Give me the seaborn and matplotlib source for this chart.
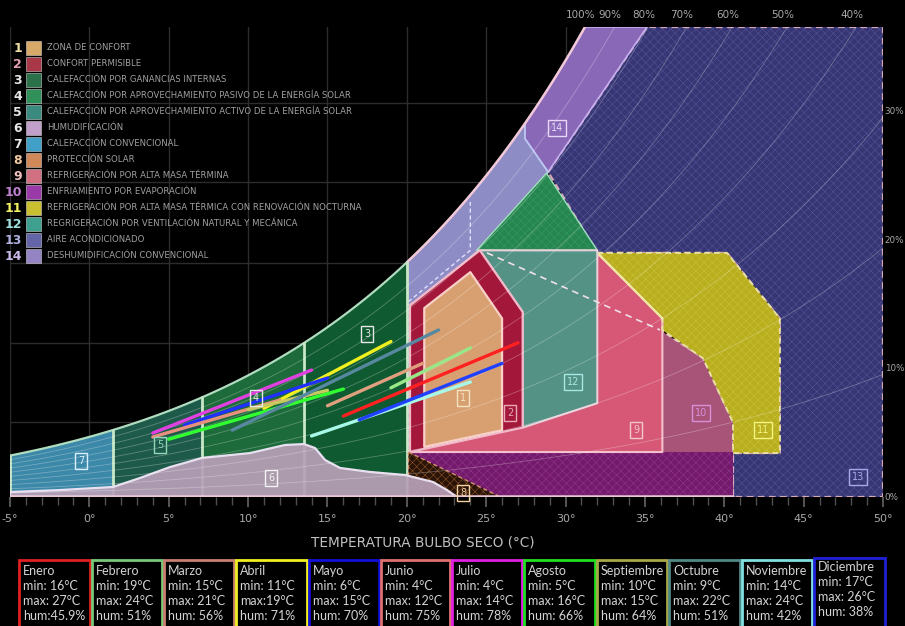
import numpy as np
import pandas as pd
import matplotlib
matplotlib.use("Agg")
import matplotlib.pyplot as plt
from matplotlib.patches import Polygon, Rectangle
import seaborn as sns

# ---------------- data ----------------
P_KPA = 81.8                       # station pressure of the chart (kPa)
W_TOP = 36.58                      # top of chart (g/kg)
rh_grid = [0.9, 0.8, 0.7, 0.6, 0.5, 0.4, 0.3, 0.2, 0.1]
rh_top = [1.0, 0.9, 0.8, 0.7, 0.6, 0.5, 0.4]
rh_top_labels = ["100%", "90%", "80%", "70%", "60%", "50%", "40%"]
x_ticks = [-5, 0, 5, 10, 15, 20, 25, 30, 35, 40, 45, 50]
x_tick_labels = ["-5°", "0°", "5°", "10°", "15°", "20°", "25°", "30°", "35°", "40°", "45°", "50°"]
y_right = [0, 10, 20, 30]
y_right_labels = ["0%", "10%", "20%", "30%"]
grid_w = [5.85, 12.0, 18.2, 24.5, 30.7]

zone_numbers = [str(i) for i in range(1, 15)]
zone_names = [
    "ZONA DE CONFORT",
    "CONFORT PERMISIBLE",
    "CALEFACCIÓN POR GANANCIAS INTERNAS",
    "CALEFACCIÓN POR APROVECHAMIENTO PASIVO DE LA ENERGÍA SOLAR",
    "CALEFACCIÓN POR APROVECHAMIENTO ACTIVO DE LA ENERGÍA SOLAR",
    "HUMUDIFICACIÓN",
    "CALEFACCIÓN CONVENCIONAL",
    "PROTECCIÓN SOLAR",
    "REFRIGERACIÓN POR ALTA MASA TÉRMINA",
    "ENFRIAMIENTO POR EVAPORACIÓN",
    "REFRIGERACIÓN POR ALTA MASA TÉRMICA CON RENOVACIÓN NOCTURNA",
    "REGRIGERACIÓN POR VENTILACIÓN NATURAL Y MECÁNICA",
    "AIRE ACONDICIONADO",
    "DESHUMIDIFICACIÓN CONVENCIONAL",
]
swatch_colors = ["#d8a868", "#a83848", "#2a7048", "#30905a", "#3a8a80", "#c0a0c8", "#40a0c8",
                 "#d08858", "#d07080", "#9a3aa8", "#c8c030", "#40a090", "#6464a8", "#9484c4"]
number_colors = ["#f0e0a8", "#e0a0b0", "#e8e8e8", "#e8e8e8", "#e8e8e8", "#e8e8e8", "#e8e8e8",
                 "#f0c8a0", "#f0c0c0", "#c080d0", "#f0f060", "#a0e0e0", "#b0b0e0", "#c8b8e8"]

# heating zones bounded by the saturation curve: 7, 5, 4, 3
heat_bounds = [-5.0, 1.5, 7.1, 13.5, 20.0]
heat_colors = ["#3c88a8", "#1e5a4a", "#1d6a3a", "#0f5a30"]

zone1 = [(21.1, 3.9), (21.1, 14.7), (24.0, 17.5), (26.0, 13.9), (26.0, 5.2)]
zone2 = [(20.2, 3.5), (20.2, 14.9), (24.6, 19.2), (27.3, 14.4), (27.3, 5.4)]
zone12 = [(24.6, 19.2), (32.0, 19.2), (32.0, 7.3), (27.3, 5.4), (27.3, 14.4)]
zone12_up = [(28.8, 25.2), (32.0, 19.2), (24.4, 19.2)]
zone9 = [(20.2, 3.5), (36.1, 3.5), (36.1, 13.9), (32.0, 19.0), (24.6, 19.2), (20.2, 14.9)]
zone10 = [(20.1, 0.0), (20.1, 14.9), (25.05, 19.0), (35.95, 13.0), (38.66, 10.8),
          (40.55, 5.8), (40.55, 0.0)]
zone10_low = [(20.1, 0.0), (20.1, 3.5), (40.55, 3.5), (40.55, 0.0)]
zone11 = [(32.0, 19.0), (40.17, 19.0), (43.5, 13.9), (43.5, 3.42), (40.55, 3.42),
          (40.55, 5.8), (38.66, 10.8), (36.1, 13.0), (36.1, 13.9)]
zone13 = [(28.9, 25.3), (35.13, W_TOP), (50.0, W_TOP), (50.0, 0.0), (40.55, 0.0),
          (40.55, 3.42), (43.5, 3.42), (43.5, 13.9), (40.17, 19.0), (32.0, 19.0)]
zone14_corner = [(35.13, W_TOP), (28.9, 25.3), (27.44, 27.9)]
zone14_low_tail = [(27.44, 27.9), (28.9, 25.3), (24.6, 19.2), (20.2, 14.9), (20.0, 14.9)]
zone14_dash_t = [20.1, 24.0, 24.0]
zone14_dash_w = [15.2, 19.2, 22.96]
zone8 = [(20.1, 3.5), (25.9, 0.0), (20.1, 0.0)]
zone6_top = [(-5.0, 0.39), (-1.85, 0.54), (1.49, 0.78), (3.19, 1.48), (5.08, 2.33), (7.10, 3.04),
             (10.12, 3.42), (12.33, 4.05), (13.52, 4.12), (14.22, 3.81), (14.85, 2.88),
             (15.79, 2.26), (17.68, 1.95), (19.89, 1.71), (21.65, 1.17), (22.53, 0.54), (23.16, 0.0)]

zone_label_pos = {
    "1": (23.54, 7.70), "2": (26.50, 6.54), "3": (17.49, 12.68), "4": (10.50, 7.70),
    "5": (4.45, 4.05), "6": (11.44, 1.48), "7": (-0.53, 2.80), "8": (23.54, 0.31),
    "9": (34.44, 5.21), "10": (38.53, 6.54), "11": (42.44, 5.21), "12": (30.47, 8.95),
    "13": (48.42, 1.56), "14": (29.46, 28.72)}
zone_label_colors = {"1": "#f4e4c4", "2": "#e8a8b8", "3": "#e8e8e8", "4": "#e8e8e8", "5": "#90d8b8",
                     "6": "#f4f4f4", "7": "#d8f0ff", "8": "#f0d0a0", "9": "#f4c8c8", "10": "#d890d8",
                     "11": "#f4f480", "12": "#a8e8e0", "13": "#a8a8e8", "14": "#e8d8f8"}

# monthly climate lines
meses = ["Enero", "Febrero", "Marzo", "Abril", "Mayo", "Junio", "Julio", "Agosto",
         "Septiembre", "Octubre", "Noviembre", "Diciembre"]
t_min = [16, 19, 15, 11, 6, 4, 4, 5, 10, 9, 14, 17]
t_max = [27, 24, 21, 19, 15, 12, 14, 16, 15, 22, 24, 26]
w_min = [6.3, 8.5, 7.1, 6.9, 5.6, 4.67, 4.98, 4.5, 6.8, 5.2, 4.75, 6.0]
w_max = [12.0, 11.6, 10.4, 12.1, 9.26, 7.55, 9.88, 8.4, 8.3, 13.0, 8.95, 10.4]
min_txt = ["min: 16°C", "min: 19°C", "min: 15°C", "min: 11°C", "min: 6°C", "min: 4°C",
           "min: 4°C", "min: 5°C", "min: 10°C", "min: 9°C", "min: 14°C", "min: 17°C"]
max_txt = ["max: 27°C", "max: 24°C", "max: 21°C", "max:19°C", "max: 15°C", "max: 12°C",
           "max: 14°C", "max: 16°C", "max: 15°C", "max: 22°C", "max: 24°C", "max: 26°C"]
hum_txt = ["hum:45.9%", "hum: 51%", "hum: 56%", "hum: 71%", "hum: 70%", "hum: 75%",
           "hum: 78%", "hum: 66%", "hum: 64%", "hum: 51%", "hum: 42%", "hum: 38%"]
box_colors = ["#e02020", "#78c878", "#c88070", "#f0f020", "#1010d8", "#e07070",
              "#e020e0", "#20e020", "#a8a848", "#508888", "#80e0e0", "#2020d8"]
line_colors = ["#ff2020", "#98e888", "#e0a080", "#f0f020", "#2030ff", "#e89080",
               "#e040e0", "#30ff30", "#c8c860", "#5888a0", "#a8f8e8", "#2040ff"]


# ---------------- helpers ----------------
def w_of(T, phi):
    ps = 0.61094 * np.exp(17.625 * T / (T + 243.04))
    pv = phi * ps
    return 622.0 * pv / (P_KPA - pv)


def t_at(w, phi):
    pv = w * P_KPA / (622.0 + w)
    a = np.log(pv / phi / 0.61094)
    return 243.04 * a / (17.625 - a)


def sat_pts(t0, t1, n=60):
    tt = np.linspace(t0, t1, n)
    return list(zip(tt, w_of(tt, 1.0)))


def zone(ax, pts, fc, z, hatch=None, ec=None, ls="-", lw=1.3, alpha=1.0):
    ax.add_patch(Polygon(pts, closed=True, facecolor=fc, edgecolor="none", alpha=alpha, zorder=z))
    if hatch:
        ax.add_patch(Polygon(pts, closed=True, fill=False, edgecolor=hatch, hatch="xxxx",
                             lw=0, zorder=z + 0.1))
    if ec:
        ax.add_patch(Polygon(pts, closed=True, fill=False, edgecolor=ec, lw=lw, ls=ls,
                             zorder=z + 0.2, joinstyle="round"))


# ---------------- figure ----------------
sns.set_theme(style="dark")
plt.rcParams["font.family"] = ["DejaVu Sans"]
plt.rcParams["hatch.linewidth"] = 0.35

fig = plt.figure(figsize=(9.05, 6.26), dpi=100, facecolor="black")
ax = fig.add_axes([10 / 905, 129 / 626, 873 / 905, 470 / 626])
ax.set_facecolor("black")
ax.set_xlim(-5, 50)
ax.set_ylim(0, W_TOP)
for s in ax.spines.values():
    s.set_visible(False)
ax.grid(False)

# background grid
for xv in x_ticks:
    ax.axvline(xv, color="#2c2c2c", lw=1.0, zorder=0)
for gw in grid_w:
    ax.axhline(gw, color="#2c2c2c", lw=1.0, zorder=0)

t_sat_top = t_at(W_TOP, 1.0)

# zone 13 and 14
zone(ax, zone13, "#363674", 1, hatch="#55559a", ec="#d8a8b8", ls=(0, (3, 2)), lw=1.6)
z14_up = sat_pts(27.44, t_sat_top) + zone14_corner
zone(ax, z14_up, "#8a68b8", 2, ec="#c8b0f0", lw=1.2)
z14_low = sat_pts(20.0, 27.44) + zone14_low_tail
zone(ax, z14_low, "#8e8cc4", 2, ec="#b8c8f0", lw=1.2)
ax.plot(zone14_dash_t, zone14_dash_w, color="#e0e0ff", lw=1, ls=(0, (3, 2)), zorder=3)

# heating zones
for k in range(4):
    pts = [(heat_bounds[k], 0.0)] + sat_pts(heat_bounds[k], heat_bounds[k + 1], 30) + \
          [(heat_bounds[k + 1], 0.0)]
    zone(ax, pts, heat_colors[k], 3)
ax.plot(*zip(*sat_pts(-5, 20.0)), color="#b0dcc0", lw=1.6, zorder=6)
ax.plot(*zip(*sat_pts(20.0, t_sat_top)), color="#f0c8d8", lw=1.8, zorder=6)
for b in heat_bounds:
    ax.plot([b, b], [0, w_of(b, 1.0)], color="#c8e8c8", lw=2, zorder=6)

# zones 10, 9, 11, 12
zone(ax, zone10, "#a85478", 4, ec="#e0b0c8", ls=(0, (3, 2)), lw=1.2)
zone(ax, zone10_low, "#741a6c", 4.3, hatch="#94388c")
zone(ax, zone9, "#d65876", 5, ec="#f4c0cc", lw=1.5)
zone(ax, zone11, "#b8ae1e", 5, hatch="#ccc23a", ec="#e8e0a0", ls=(0, (3, 2)), lw=1.4)
ax.plot([32.0, 36.1], [19.0, 13.9], color="#f0e8a0", lw=1.5, zorder=5.5)
zone(ax, zone12_up, "#268650", 5.5, hatch="#3a9a62", ec="#a0e0c0", lw=1.0)
zone(ax, zone12, "#4c9686", 6, ec="#e8d0d8", lw=1.5, alpha=0.95)
ax.plot([25.05, 35.95], [19.0, 13.0], color="#f0e0e8", lw=1.2, ls=(0, (4, 3)), zorder=6.5)
zone(ax, zone2, "#a3183a", 7, ec="#f0b8c8", lw=1.6)
zone(ax, zone1, "#d8a070", 8, ec="#f8d0c8", lw=1.6)

# zone 8 and zone 6
zone(ax, zone8, "#2a1408", 8, hatch="#9a5a28", ec="#d09070", ls=(0, (3, 2)), lw=1.0)
z6 = zone6_top + [(23.16, 0.0), (-5.0, 0.0)]
zone(ax, z6, "#b8a0b8", 9, ec="#e8e0f0", lw=1.6, alpha=0.92)

# relative humidity curves
for phi in rh_grid:
    t_end = min(50.0, t_at(W_TOP, phi))
    tt = np.linspace(-5, t_end, 120)
    ax.plot(tt, w_of(tt, phi), color="white", lw=0.6, alpha=0.28, zorder=9.5)

# bottom base line
ax.plot([-5, 40.55], [0.05, 0.05], color="#e8c8d8", lw=1.8, zorder=9.6)

# monthly lines via seaborn
df = pd.DataFrame({
    "mes": meses * 2,
    "T": t_min + t_max,
    "w": w_min + w_max,
})
sns.lineplot(data=df, x="T", y="w", hue="mes", palette=dict(zip(meses, line_colors)),
             estimator=None, sort=True, lw=2.4, legend=False, ax=ax, zorder=10)
ax.set_xlabel("")
ax.set_ylabel("")

# zone number labels
for key, (tx, wy) in zone_label_pos.items():
    c = zone_label_colors[key]
    ax.text(tx, wy, key, color=c, fontsize=7, ha="center", va="center", zorder=11,
            bbox=dict(boxstyle="square,pad=0.3", fc="none", ec=c, lw=1.0))

# ticks
ax.set_xticks(x_ticks)
ax.set_xticklabels(x_tick_labels, color="#a8a8a8", fontsize=8)
ax.set_xticks(np.arange(-5, 51, 1), minor=True)
ax.tick_params(axis="x", which="major", length=7, color="#606060", pad=5, direction="out", bottom=True)
ax.tick_params(axis="x", which="minor", length=6, color="#505050", direction="out", bottom=True)
ax.set_yticks([])

for v, lab in zip(y_right, y_right_labels):
    ax.text(1.002, v, lab, transform=ax.get_yaxis_transform(), color="#a8a8a8", fontsize=6.3,
            ha="left", va="center", clip_on=False)
for phi, lab in zip(rh_top, rh_top_labels):
    ax.text(t_at(W_TOP, phi) - 0.3, 1.026, lab, transform=ax.get_xaxis_transform(),
            color="#a8a8a8", fontsize=7.5, ha="center", va="center", clip_on=False)

# ---------------- overlay: legend, xlabel, table ----------------
ov = fig.add_axes([0, 0, 1, 1], facecolor="none")
ov.set_xlim(0, 905)
ov.set_ylim(626, 0)
ov.axis("off")

for i in range(14):
    yy = 48 + 16 * i
    ov.text(22, yy, zone_numbers[i], color=number_colors[i], fontsize=9, fontweight="bold",
            ha="right", va="center")
    ov.add_patch(Rectangle((26, yy - 7), 15, 14, facecolor=swatch_colors[i],
                           edgecolor="#d0d0d0", lw=0.4))
    ov.text(47, yy, zone_names[i], color="#a0a0a0", fontsize=6.1, ha="left", va="center")

ov.text(423, 543, "TEMPERATURA BULBO SECO (°C)", color="#c0c0c0", fontsize=9.8,
        ha="center", va="center")

box_edges = [18, 91, 163, 235, 308, 380, 451, 523, 596, 668, 741, 813, 886]
for i, mes in enumerate(meses):
    x0, x1 = box_edges[i], box_edges[i + 1]
    top = 558 if i == 11 else 560
    ov.add_patch(Rectangle((x0 + 1, top), x1 - x0 - 2, 80, facecolor="black",
                           edgecolor=box_colors[i], lw=2))
    lines = [mes, min_txt[i], max_txt[i], hum_txt[i]]
    y0 = 567 if i == 11 else 571
    for j, t in enumerate(lines):
        ov.text(x0 + 5, y0 + 15 * j, t, color="#d4d4d4", fontsize=9.0,
                family=["Lato", "DejaVu Sans"], ha="left", va="center")

fig.savefig("out.png", dpi=100, facecolor="black")
